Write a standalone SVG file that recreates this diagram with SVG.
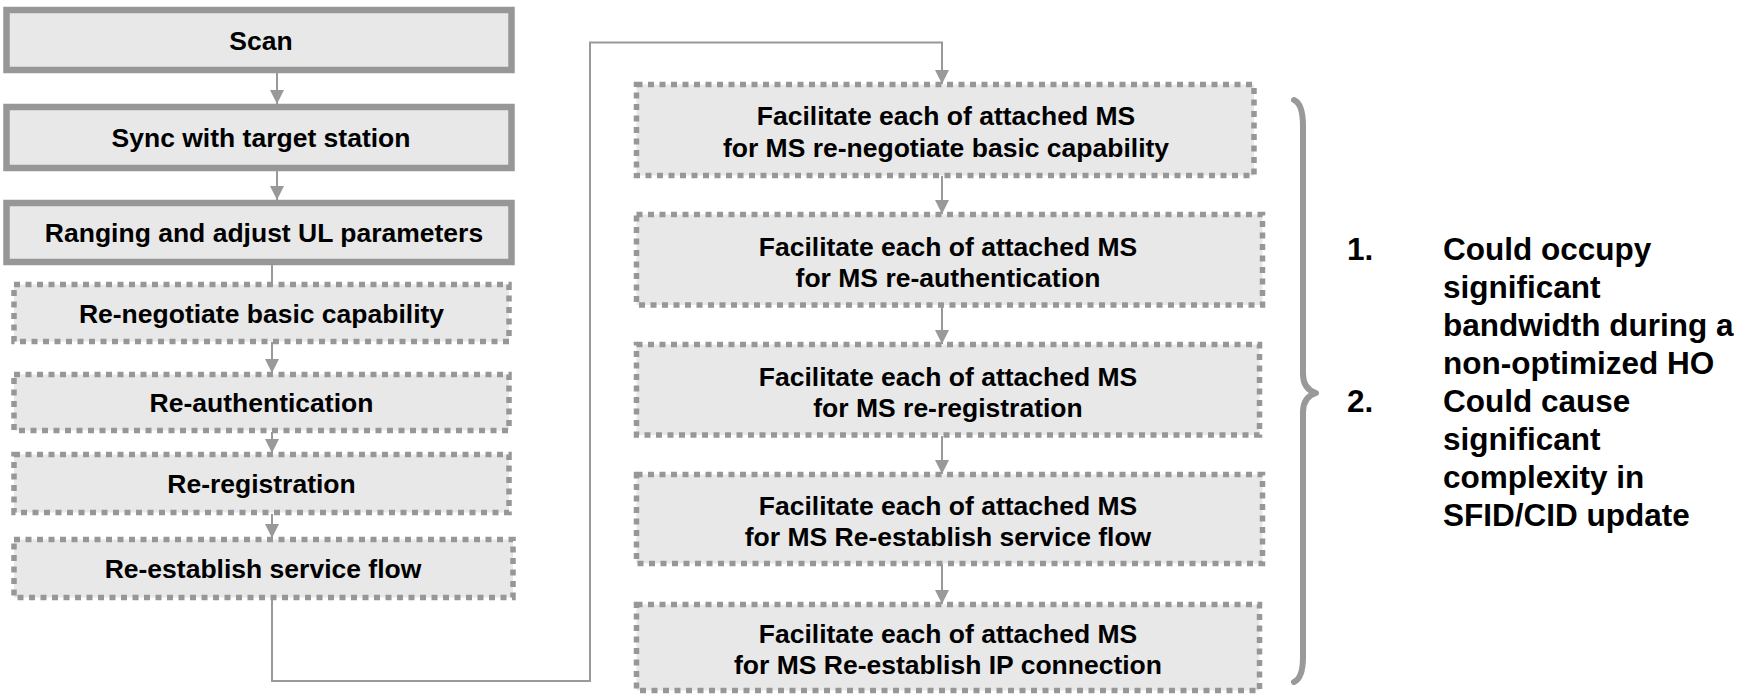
<svg xmlns="http://www.w3.org/2000/svg" width="1751" height="694" viewBox="0 0 1751 694">
<style>
.bg{fill:#ffffff}
.solid{fill:#e8e8e8;stroke:#979797;stroke-width:6.5}
.dash{fill:#e8e8e8;stroke:#979797;stroke-width:5.5;stroke-dasharray:6 5.5}
.t{font-family:"Liberation Sans",Arial,sans-serif;font-weight:bold;font-size:26.5px;fill:#000;text-anchor:middle}
.l{font-family:"Liberation Sans",Arial,sans-serif;font-weight:bold;font-size:31.5px;fill:#000}
.c{fill:none;stroke:#999999;stroke-width:2}
.brace{fill:none;stroke:#999999;stroke-width:6;stroke-linecap:round;stroke-linejoin:round}
</style>
<defs>
<marker id="ah" markerUnits="userSpaceOnUse" markerWidth="15" markerHeight="14" refX="14" refY="7" orient="auto">
<path d="M0,0 L14,7 L0,14 z" fill="#999999"/>
</marker>
</defs>
<rect class="bg" x="0" y="0" width="1751" height="694"/>

<g id="n-scan"><rect class="solid" x="6.5" y="10" width="505" height="60"/><text class="t" x="261" y="49.5">Scan</text></g>
<g id="n-sync"><rect class="solid" x="6.5" y="107" width="505" height="61"/><text class="t" x="261" y="147">Sync with target station</text></g>
<g id="n-ranging"><rect class="solid" x="6.5" y="203" width="505" height="59"/><text class="t" x="264" y="242">Ranging and adjust UL parameters</text></g>
<g id="n-reneg"><rect class="dash" x="14" y="284.5" width="495" height="57"/><text class="t" x="261.5" y="323">Re-negotiate basic capability</text></g>
<g id="n-reauth"><rect class="dash" x="14" y="374.5" width="495" height="56"/><text class="t" x="261.5" y="412">Re-authentication</text></g>
<g id="n-rereg"><rect class="dash" x="14" y="454.5" width="495" height="58"/><text class="t" x="261.5" y="493">Re-registration</text></g>
<g id="n-reest"><rect class="dash" x="14" y="539.5" width="499" height="58"/><text class="t" x="263" y="578">Re-establish service flow</text></g>

<g id="n-f1"><rect class="dash" x="636.5" y="84.5" width="617.5" height="91"/><text class="t" x="946" y="125">Facilitate each of attached MS</text><text class="t" x="946" y="157">for MS re-negotiate basic capability</text></g>
<g id="n-f2"><rect class="dash" x="636.5" y="214.5" width="626" height="90.5"/><text class="t" x="948" y="256">Facilitate each of attached MS</text><text class="t" x="948" y="287">for MS re-authentication</text></g>
<g id="n-f3"><rect class="dash" x="636.5" y="344.5" width="623" height="90.5"/><text class="t" x="948" y="386">Facilitate each of attached MS</text><text class="t" x="948" y="417">for MS re-registration</text></g>
<g id="n-f4"><rect class="dash" x="636.5" y="474.5" width="626" height="89"/><text class="t" x="948" y="515">Facilitate each of attached MS</text><text class="t" x="948" y="546">for MS Re-establish service flow</text></g>
<g id="n-f5"><rect class="dash" x="636.5" y="604.5" width="623" height="86"/><text class="t" x="948" y="643">Facilitate each of attached MS</text><text class="t" x="948" y="674">for MS Re-establish IP connection</text></g>

<g id="connectors">
<path class="c" d="M277,73 L277,104" marker-end="url(#ah)"/>
<path class="c" d="M277,170 L277,200" marker-end="url(#ah)"/>
<path class="c" d="M272,265 L272,282"/>
<path class="c" d="M272,342 L272,373" marker-end="url(#ah)"/>
<path class="c" d="M272,432 L272,453" marker-end="url(#ah)"/>
<path class="c" d="M272,514 L272,538" marker-end="url(#ah)"/>
<path class="c" d="M272,599 L272,681 L590,681 L590,42.5 L942,42.5 L942,84" marker-end="url(#ah)"/>
<path class="c" d="M942,176 L942,214" marker-end="url(#ah)"/>
<path class="c" d="M942,306 L942,344" marker-end="url(#ah)"/>
<path class="c" d="M942,436 L942,474" marker-end="url(#ah)"/>
<path class="c" d="M942,564 L942,604" marker-end="url(#ah)"/>
</g>

<g id="brace"><path class="brace" d="M1294,100 Q1303,104 1303,126 L1303,374 Q1303,389 1316,393 Q1303,397 1303,412 L1303,657 Q1303,678 1294,682"/></g>

<g id="notes">
<text class="l" x="1347" y="260">1.</text>
<text class="l" x="1443" y="260">Could occupy</text>
<text class="l" x="1443" y="298">significant</text>
<text class="l" x="1443" y="336">bandwidth during a</text>
<text class="l" x="1443" y="374">non-optimized HO</text>
<text class="l" x="1347" y="412">2.</text>
<text class="l" x="1443" y="412">Could cause</text>
<text class="l" x="1443" y="450">significant</text>
<text class="l" x="1443" y="488">complexity in</text>
<text class="l" x="1443" y="526">SFID/CID update</text>
</g>
</svg>
